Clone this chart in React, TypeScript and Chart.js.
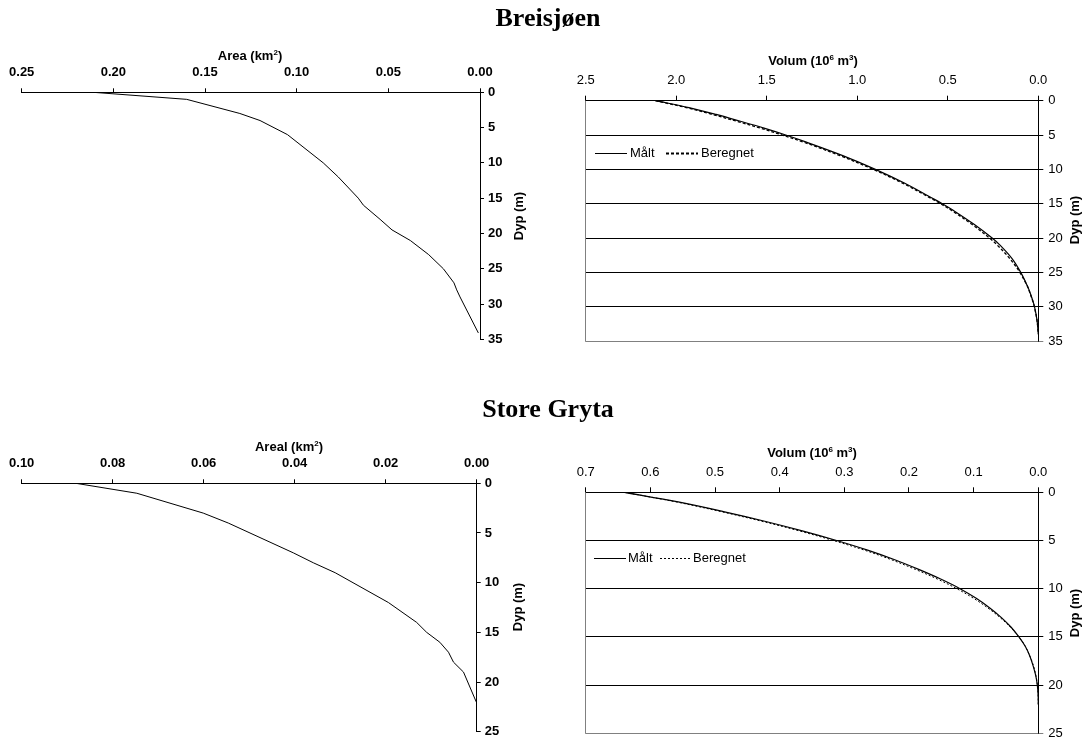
import React, { useEffect, useRef } from 'react';
import { Chart, registerables } from 'chart.js';

Chart.register(...registerables);
Chart.defaults.font.family = '"Liberation Sans", Arial, Helvetica, sans-serif';

// ---------- Breisjøen ----------
const breisAreaDepth = [0, 1, 3, 4, 6, 10, 12, 15, 16, 18, 19.5, 21, 23, 25, 27, 28, 29, 34.1];
const breisArea = [0.211, 0.160, 0.131, 0.120, 0.105, 0.0855, 0.0773, 0.0664, 0.0636, 0.0545, 0.048, 0.038, 0.028, 0.020, 0.0142, 0.0127, 0.0109, 0.0009];

const breisVolDepth = [0, 1, 2, 3, 4, 5, 6, 8, 10, 12, 14, 15, 16, 18, 20, 21, 23, 25, 27, 28, 29, 30, 32, 34];
const breisVolMaalt = [2.115, 1.93, 1.78, 1.645, 1.515, 1.395, 1.285, 1.08, 0.9, 0.74, 0.6, 0.53, 0.468, 0.355, 0.255, 0.213, 0.145, 0.097, 0.06, 0.045, 0.032, 0.021, 0.007, 0];
const breisVolBeregnet = [2.115, 1.945, 1.8, 1.665, 1.535, 1.415, 1.3, 1.095, 0.912, 0.75, 0.608, 0.54, 0.478, 0.367, 0.27, 0.228, 0.157, 0.102, 0.061, 0.046, 0.033, 0.022, 0.007, 0];

const breisAreaTicks = [0, 0.05, 0.1, 0.15, 0.2, 0.25];
const breisVolTicks = [0, 0.5, 1.0, 1.5, 2.0, 2.5];
const breisDepthTicks = [0, 5, 10, 15, 20, 25, 30, 35];

// ---------- Store Gryta ----------
const grytaAreaDepth = [0, 1, 3, 4, 7, 8, 9, 12, 14, 15, 16, 17, 18, 19, 22];
const grytaArea = [0.0881, 0.0747, 0.0601, 0.0546, 0.0403, 0.0359, 0.0311, 0.0194, 0.0132, 0.011, 0.0081, 0.0062, 0.0051, 0.0029, 0.0001];

const grytaVolDepth = [0, 1, 2, 3, 4, 5, 6, 7, 8, 9, 10, 11, 12, 13, 14, 15, 16, 17, 18, 19, 20, 21, 22];
const grytaVolMaalt = [0.64, 0.557, 0.487, 0.423, 0.365, 0.312, 0.264, 0.222, 0.185, 0.151, 0.121, 0.096, 0.075, 0.057, 0.042, 0.03, 0.02, 0.013, 0.008, 0.004, 0.0015, 0.0003, 0];
const grytaVolBeregnet = [0.64, 0.56, 0.491, 0.428, 0.37, 0.317, 0.269, 0.227, 0.19, 0.156, 0.126, 0.1, 0.078, 0.059, 0.043, 0.03, 0.02, 0.013, 0.0075, 0.0038, 0.0014, 0.0003, 0];

const grytaAreaTicks = [0, 0.02, 0.04, 0.06, 0.08, 0.1];
const grytaVolTicks = [0, 0.1, 0.2, 0.3, 0.4, 0.5, 0.6, 0.7];
const grytaDepthTicks = [0, 5, 10, 15, 20, 25];

const legendLabels = ['Målt', 'Beregnet'];

type Spec = { cl: number; ct: number; cw: number; ch: number; L: number; T: number; R: number; B: number };

const specTL: Spec = { cl: 0, ct: 30, cw: 540, ch: 340, L: 21.7, T: 92.3, R: 480, B: 339.3 };
const specTR: Spec = { cl: 540, ct: 30, cw: 545, ch: 340, L: 585.7, T: 100.7, R: 1038.3, B: 341 };
const specBL: Spec = { cl: 0, ct: 420, cw: 540, ch: 340, L: 21.7, T: 483.3, R: 476.7, B: 731.7 };
const specBR: Spec = { cl: 540, ct: 420, cw: 545, ch: 340, L: 585.7, T: 492.3, R: 1038.3, B: 733.3 };

const FONT = '"Liberation Sans", Arial, Helvetica, sans-serif';

function pts(xs: number[], ys: number[]) {
  return ys.map((y, i) => ({ x: xs[i], y }));
}

function baseScales(spec: Spec, xTicks: number[], yTicks: number[], decimals: number, bold: boolean, tickLen: number, xPad: number, yPad: number) {
  const weight = bold ? 'bold' : 'normal';
  return {
    x: {
      type: 'linear',
      position: 'top',
      reverse: true,
      min: xTicks[0],
      max: xTicks[xTicks.length - 1],
      afterBuildTicks: (s: any) => { s.ticks = xTicks.map((v) => ({ value: v })); },
      afterFit: (s: any) => { s.height = spec.T - spec.ct; },
      ticks: {
        callback: (v: any) => Number(v).toFixed(decimals),
        font: { size: 13, weight, family: FONT },
        color: '#000',
        padding: xPad,
        maxRotation: 0,
        autoSkip: false,
      },
      grid: { drawOnChartArea: false, drawTicks: true, tickLength: tickLen, color: '#000', lineWidth: 1 },
      border: { display: true, color: '#000', width: 1 },
    },
    y: {
      type: 'linear',
      position: 'right',
      reverse: true,
      min: yTicks[0],
      max: yTicks[yTicks.length - 1],
      afterBuildTicks: (s: any) => { s.ticks = yTicks.map((v) => ({ value: v })); },
      afterFit: (s: any) => { s.width = spec.cl + spec.cw - spec.R; },
      ticks: {
        callback: (v: any) => String(v),
        font: { size: 13, weight, family: FONT },
        color: '#000',
        padding: yPad,
        autoSkip: false,
      },
      grid: { drawOnChartArea: false, drawTicks: true, tickLength: tickLen, color: '#000', lineWidth: 1 },
      border: { display: true, color: '#000', width: 1 },
    },
  };
}

function commonOptions(spec: Spec) {
  return {
    responsive: false,
    maintainAspectRatio: false,
    animation: false,
    events: [],
    layout: { padding: { left: spec.L - spec.cl, top: 0, right: 0, bottom: spec.ct + spec.ch - spec.B } },
    plugins: { legend: { display: false }, tooltip: { enabled: false }, title: { display: false } },
  };
}

function areaConfig(spec: Spec, depth: number[], area: number[], xTicks: number[], yTicks: number[]) {
  return {
    type: 'scatter',
    data: {
      datasets: [
        {
          label: 'Area',
          data: pts(area, depth),
          showLine: true,
          borderColor: '#000',
          borderWidth: 1,
          pointRadius: 0,
          tension: 0,
          fill: false,
        },
      ],
    },
    options: {
      ...commonOptions(spec),
      scales: baseScales(spec, xTicks, yTicks, 2, true, 4, 8, 4),
    },
  };
}

type LegendPos = { y: number; l0: number; l1: number; t1: number; d0: number; d1: number; t2: number; dash: number[]; dashW: number };

function volConfig(spec: Spec, depth: number[], maalt: number[], beregnet: number[], xTicks: number[], yTicks: number[], dash: number[], dashW: number, lg: LegendPos) {
  const scales: any = baseScales(spec, xTicks, yTicks, 1, false, 5, 7, 5);
  const yMax = yTicks[yTicks.length - 1];
  scales.y.grid = {
    drawOnChartArea: true,
    drawTicks: true,
    tickLength: 5,
    lineWidth: 1,
    color: (c: any) => (c.tick && c.tick.value === yMax ? '#808080' : '#000'),
  };
  const decor = {
    id: 'volDecor',
    beforeDatasetsDraw(chart: any) {
      const { ctx, chartArea } = chart;
      const x = Math.floor(chartArea.left) + 0.5;
      const yb = Math.floor(chartArea.bottom) + 0.5;
      ctx.save();
      ctx.strokeStyle = '#808080';
      ctx.lineWidth = 1;
      ctx.beginPath();
      ctx.moveTo(x, chartArea.top);
      ctx.lineTo(x, yb);
      ctx.lineTo(chartArea.right, yb);
      ctx.stroke();
      ctx.restore();
    },
    afterDraw(chart: any) {
      const { ctx, chartArea } = chart;
      const L = chartArea.left;
      const y = Math.round(chartArea.top + lg.y) + 0.5;
      ctx.save();
      ctx.strokeStyle = '#000';
      ctx.lineWidth = 1;
      ctx.setLineDash([]);
      ctx.beginPath();
      ctx.moveTo(L + lg.l0, y);
      ctx.lineTo(L + lg.l1, y);
      ctx.stroke();
      ctx.lineWidth = lg.dashW;
      ctx.setLineDash(lg.dash);
      ctx.beginPath();
      ctx.moveTo(L + lg.d0, y);
      ctx.lineTo(L + lg.d1, y);
      ctx.stroke();
      ctx.setLineDash([]);
      ctx.fillStyle = '#000';
      ctx.font = '13px ' + FONT;
      ctx.textBaseline = 'middle';
      ctx.textAlign = 'left';
      ctx.fillText(legendLabels[0], L + lg.t1, y);
      ctx.fillText(legendLabels[1], L + lg.t2, y);
      ctx.restore();
    },
  };
  return {
    type: 'scatter',
    data: {
      datasets: [
        {
          label: legendLabels[0],
          data: pts(maalt, depth),
          showLine: true,
          borderColor: '#000',
          borderWidth: 1.2,
          pointRadius: 0,
          tension: 0.35,
          fill: false,
        },
        {
          label: legendLabels[1],
          data: pts(beregnet, depth),
          showLine: true,
          borderColor: '#000',
          borderWidth: dashW,
          borderDash: dash,
          pointRadius: 0,
          tension: 0.35,
          fill: false,
        },
      ],
    },
    options: {
      ...commonOptions(spec),
      scales,
    },
    plugins: [decor],
  };
}

function ChartCanvas({ spec, make }: { spec: Spec; make: () => any }) {
  const ref = useRef<HTMLCanvasElement>(null);
  useEffect(() => {
    const chart = new Chart(ref.current as HTMLCanvasElement, make());
    return () => chart.destroy();
  }, []);
  return (
    <canvas
      ref={ref}
      width={spec.cw}
      height={spec.ch}
      style={{ position: 'absolute', left: spec.cl, top: spec.ct, width: spec.cw, height: spec.ch }}
    />
  );
}

const sup: React.CSSProperties = { fontSize: 8, position: 'relative', top: -5 };

function AxisTitle({ cx, top, children }: { cx: number; top: number; children: React.ReactNode }) {
  return (
    <div
      style={{
        position: 'absolute',
        left: cx,
        top,
        transform: 'translateX(-50%)',
        font: 'bold 13px ' + FONT,
        lineHeight: '13px',
        whiteSpace: 'nowrap',
        color: '#000',
      }}
    >
      {children}
    </div>
  );
}

function DepthTitle({ cx, cy }: { cx: number; cy: number }) {
  return (
    <div
      style={{
        position: 'absolute',
        left: cx,
        top: cy,
        transform: 'translate(-50%, -50%) rotate(-90deg)',
        font: 'bold 13px ' + FONT,
        lineHeight: '13px',
        whiteSpace: 'nowrap',
        color: '#000',
      }}
    >
      Dyp (m)
    </div>
  );
}

function MainTitle({ cx, top, text }: { cx: number; top: number; text: string }) {
  return (
    <div
      style={{
        position: 'absolute',
        left: cx,
        top,
        transform: 'translateX(-50%)',
        font: 'bold 26px "Liberation Serif", "Times New Roman", serif',
        lineHeight: '26px',
        whiteSpace: 'nowrap',
        color: '#000',
      }}
    >
      {text}
    </div>
  );
}

export default function App() {
  return (
    <div style={{ position: 'fixed', left: 0, top: 0, width: 1085, height: 740, overflow: 'hidden', background: '#fff' }}>
      <ChartCanvas spec={specTL} make={() => areaConfig(specTL, breisAreaDepth, breisArea, breisAreaTicks, breisDepthTicks)} />
      <ChartCanvas
        spec={specTR}
        make={() =>
          volConfig(specTR, breisVolDepth, breisVolMaalt, breisVolBeregnet, breisVolTicks, breisDepthTicks, [3, 2], 1.3, {
            y: 52.3, l0: 9.3, l1: 41.3, t1: 44.3, d0: 80.3, d1: 112.3, t2: 115.3, dash: [3, 2], dashW: 2,
          })
        }
      />
      <ChartCanvas spec={specBL} make={() => areaConfig(specBL, grytaAreaDepth, grytaArea, grytaAreaTicks, grytaDepthTicks)} />
      <ChartCanvas
        spec={specBR}
        make={() =>
          volConfig(specBR, grytaVolDepth, grytaVolMaalt, grytaVolBeregnet, grytaVolTicks, grytaDepthTicks, [2, 2], 1, {
            y: 65.7, l0: 8.3, l1: 40.3, t1: 42.3, d0: 74.3, d1: 106.3, t2: 107.3, dash: [2, 2], dashW: 1,
          })
        }
      />

      <MainTitle cx={548} top={5} text="Breisjøen" />
      <MainTitle cx={548} top={396} text="Store Gryta" />

      <AxisTitle cx={250} top={49}>
        Area (km<span style={sup}>2</span>)
      </AxisTitle>
      <AxisTitle cx={289} top={440}>
        Areal (km<span style={sup}>2</span>)
      </AxisTitle>
      <AxisTitle cx={813} top={54}>
        Volum (10<span style={sup}>6</span> m<span style={sup}>3</span>)
      </AxisTitle>
      <AxisTitle cx={812} top={446}>
        Volum (10<span style={sup}>6</span> m<span style={sup}>3</span>)
      </AxisTitle>

      <DepthTitle cx={517.5} cy={216} />
      <DepthTitle cx={1074} cy={220} />
      <DepthTitle cx={517} cy={607} />
      <DepthTitle cx={1074} cy={613} />
    </div>
  );
}
